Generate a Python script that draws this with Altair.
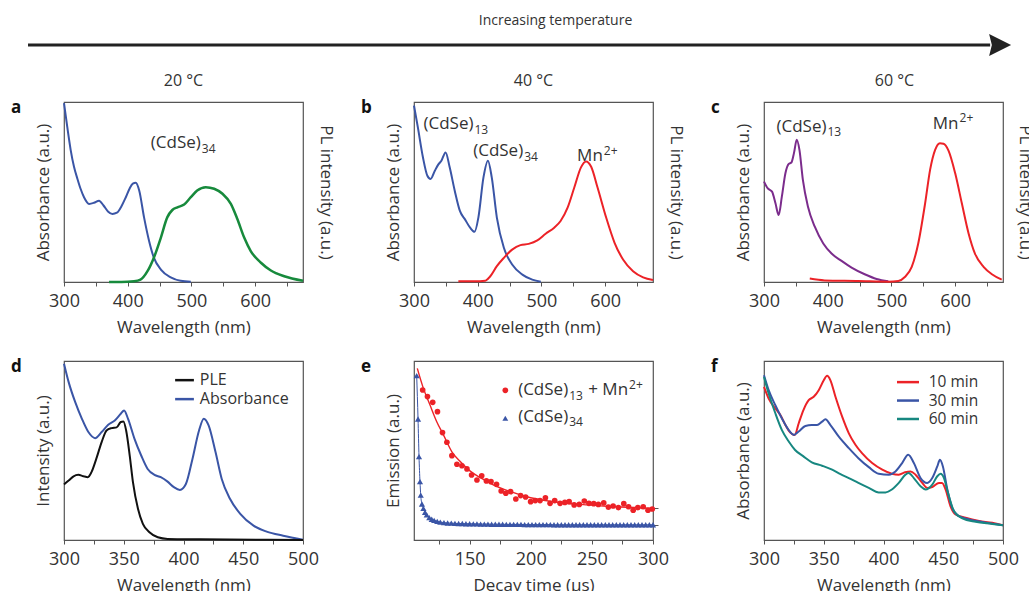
import altair as alt
import pandas as pd

FONT = "Open Sans"
TXT = "#333333"
FRAME = "#555555"
BLUE = "#3a55a6"
GREEN = "#178a3c"
RED = "#ec2227"
PURPLE = "#7b2c8c"
TEAL = "#178780"
BLACK = "#111111"

# ---------------- data (normalised 0..1) ----------------
# panel a (20 C)
a_abs_x = [300, 305, 310.5, 315.7, 321, 326, 331.4, 339.3, 347, 355, 362, 369, 376, 383, 390, 397, 403, 408, 412.6, 418, 425.6, 433.5, 441, 452, 467.5, 483, 499]
a_abs_y = [0.994, 0.864, 0.733, 0.64, 0.574, 0.518, 0.471, 0.434, 0.44, 0.452, 0.425, 0.392, 0.378, 0.385, 0.42, 0.471, 0.52, 0.546, 0.551, 0.508, 0.359, 0.228, 0.135, 0.069, 0.026, 0.007, 0.002]
a_pl_x = [370.7, 390, 410, 420, 431, 441, 452, 462, 470, 478, 488.5, 499, 509, 522.5, 535.6, 548.7, 561.8, 572, 582.7, 593, 609, 624.6, 645.5, 675]
a_pl_y = [0.0, 0.0, 0.004, 0.013, 0.06, 0.135, 0.247, 0.359, 0.4, 0.415, 0.43, 0.471, 0.508, 0.527, 0.518, 0.49, 0.434, 0.35, 0.247, 0.172, 0.107, 0.064, 0.032, 0.007]

# panel b (40 C)
b_abs_x = [300, 306, 314, 321, 326, 332.7, 338, 343, 349.6, 356, 364, 372, 380, 388, 395, 401, 409, 416, 422, 430, 441, 454, 470, 485.6, 499]
b_abs_y = [0.98, 0.86, 0.693, 0.59, 0.572, 0.618, 0.652, 0.674, 0.72, 0.637, 0.506, 0.395, 0.348, 0.302, 0.279, 0.358, 0.581, 0.674, 0.581, 0.358, 0.19, 0.097, 0.041, 0.013, 0.002]
b_pl_x = [369.6, 395, 411.8, 419.7, 430, 441, 454, 467, 480, 493.5, 506.6, 520, 530, 541, 551.5, 562, 570, 578, 588, 601.5, 614.7, 628, 643.7, 659.5, 675]
b_pl_y = [0.004, 0.004, 0.007, 0.032, 0.088, 0.134, 0.18, 0.205, 0.212, 0.231, 0.268, 0.302, 0.339, 0.413, 0.525, 0.637, 0.67, 0.64, 0.525, 0.358, 0.218, 0.125, 0.06, 0.026, 0.011]

# panel c (60 C)
c_abs_x = [300, 306, 312.6, 318, 323, 328, 333.6, 338.8, 343, 347, 351.4, 355.6, 361, 369, 379.7, 393, 406, 421.7, 437.4, 458, 476.7, 495]
c_abs_y = [0.558, 0.52, 0.502, 0.437, 0.372, 0.474, 0.604, 0.656, 0.664, 0.716, 0.79, 0.734, 0.567, 0.418, 0.307, 0.214, 0.158, 0.117, 0.08, 0.043, 0.017, 0.004]
c_pl_x = [371.8, 395, 448, 495, 510.8, 521, 531.8, 542, 552.8, 560.6, 568.5, 576, 581.6, 589.5, 600, 610.4, 621, 631, 644.5, 657.6, 673]
c_pl_y = [0.019, 0.009, 0.006, 0.002, 0.006, 0.028, 0.084, 0.214, 0.437, 0.623, 0.734, 0.771, 0.768, 0.73, 0.604, 0.437, 0.27, 0.158, 0.084, 0.043, 0.013]

# panel d (PLE vs absorbance)
d_abs_x = [300, 303.9, 309.4, 315, 320.4, 326, 331.5, 337, 342.5, 347.5, 350.3, 353.6, 359, 364.6, 370, 375.7, 381, 386.7, 392, 397, 402, 407.5, 413, 417, 421, 426.8, 432, 439, 447.5, 458.6, 469.6, 483.4, 500]
d_abs_y = [0.985, 0.882, 0.77, 0.677, 0.603, 0.569, 0.603, 0.644, 0.668, 0.705, 0.724, 0.677, 0.565, 0.472, 0.397, 0.364, 0.351, 0.326, 0.295, 0.28, 0.313, 0.453, 0.612, 0.677, 0.64, 0.491, 0.341, 0.229, 0.146, 0.08, 0.047, 0.024, 0.002]
d_ple_x = [300, 303.9, 308, 312, 316.3, 320, 323, 327, 331.5, 335.6, 339.8, 344, 347.5, 349.7, 352, 355, 357.7, 361.9, 366, 371.5, 378.5, 386.7, 414, 500]
d_ple_y = [0.31, 0.332, 0.356, 0.364, 0.356, 0.351, 0.379, 0.453, 0.547, 0.612, 0.625, 0.629, 0.659, 0.662, 0.612, 0.472, 0.323, 0.174, 0.09, 0.043, 0.015, 0.006, 0.004, 0.0]
d_series = ["PLE", "Absorbance"]

# panel e (decay)
e_mn_t = [111.6, 115.5, 119.8, 123.7, 127.8, 131.4, 135.5, 139.6, 143.7, 147.8, 151.6, 156, 159.9, 163.7, 167.5, 172, 175.8, 179.6, 183.5, 187.8, 191.7, 195.8, 199.9, 203.7, 207.6, 212, 215.8, 219.6, 224, 227.9, 231.4, 235.5, 239.7, 243.8, 247.6, 251.5, 255.3, 259.7, 263.5, 267.4, 271.7, 276.1, 280, 283.8, 287.6, 292, 295.9, 299.4]
e_mn_v = [0.838, 0.801, 0.769, 0.717, 0.6, 0.546, 0.471, 0.423, 0.415, 0.397, 0.363, 0.335, 0.359, 0.33, 0.326, 0.311, 0.274, 0.261, 0.27, 0.229, 0.248, 0.24, 0.214, 0.22, 0.22, 0.236, 0.205, 0.22, 0.205, 0.21, 0.214, 0.196, 0.199, 0.218, 0.205, 0.203, 0.199, 0.207, 0.184, 0.19, 0.181, 0.203, 0.186, 0.166, 0.181, 0.186, 0.166, 0.173]
e_fit_t = [107.2, 112.2, 117.6, 123.1, 128.6, 135.5, 142.3, 150.5, 158.8, 169.7, 183.5, 199.9, 219.1, 246.5, 273.9, 300]
e_fit_v = [0.959, 0.847, 0.754, 0.661, 0.587, 0.493, 0.438, 0.385, 0.348, 0.307, 0.27, 0.236, 0.214, 0.196, 0.184, 0.177]
e_cd_t = [106.7, 107.8, 108.6, 109.4, 110.0, 111.0, 112.2, 113.5, 114.9, 117, 119, 121, 123.5, 126, 129, 132, 135, 138, 141, 144, 147, 150, 153, 156, 159, 162, 165, 168, 171, 174, 177, 180, 183, 186, 189, 192, 195, 198, 201, 204, 207, 210, 213, 216, 219, 222, 225, 228, 231, 234, 237, 240, 243, 246, 249, 252, 255, 258, 261, 264, 267, 270, 273, 276, 279, 282, 285, 288, 291, 294, 297, 300]
e_cd_v = [0.918, 0.676, 0.466, 0.326, 0.251, 0.201, 0.177, 0.155, 0.14, 0.125, 0.116, 0.11, 0.104, 0.1, 0.097, 0.095, 0.094, 0.093, 0.092, 0.092, 0.091, 0.091, 0.09, 0.09, 0.089, 0.089, 0.089, 0.088, 0.088, 0.088, 0.088, 0.087, 0.087, 0.087, 0.087, 0.087, 0.086, 0.086, 0.086, 0.086, 0.086, 0.086, 0.086, 0.086, 0.085, 0.085, 0.085, 0.085, 0.085, 0.085, 0.085, 0.085, 0.085, 0.085, 0.085, 0.085, 0.085, 0.085, 0.085, 0.085, 0.085, 0.085, 0.085, 0.085, 0.085, 0.085, 0.085, 0.085, 0.085, 0.085, 0.085, 0.085]

# panel f (time series)
f_x = [300, 303.9, 309.5, 313.7, 317.9, 322, 325.7, 329, 333, 337.4, 341.6, 345.8, 350, 352.8, 355.6, 359.8, 365.4, 371, 376.5, 382, 390.5, 399, 407, 412.8, 418, 422.6, 426.8, 432.4, 436.6, 440.8, 446.4, 449, 452, 456, 460.3, 468.7, 480, 491, 500]
f_10_y = [0.855, 0.79, 0.735, 0.698, 0.643, 0.6, 0.587, 0.651, 0.726, 0.781, 0.8, 0.837, 0.892, 0.917, 0.892, 0.8, 0.689, 0.596, 0.532, 0.485, 0.43, 0.393, 0.37, 0.365, 0.378, 0.383, 0.365, 0.319, 0.291, 0.296, 0.319, 0.319, 0.282, 0.189, 0.143, 0.124, 0.106, 0.096, 0.082]
f30_x = [300, 303.9, 309.5, 315, 320.7, 324.9, 329, 334.6, 340, 344.4, 348.6, 351.4, 355.6, 362.6, 371, 379, 387.7, 396, 404.5, 410, 415.6, 420.7, 425.4, 431, 436.6, 440.8, 445, 447.2, 449.7, 453.4, 457.5, 463, 471.5, 482.7, 500]
f_30_y = [0.92, 0.837, 0.753, 0.679, 0.614, 0.587, 0.606, 0.637, 0.642, 0.642, 0.661, 0.674, 0.642, 0.577, 0.513, 0.457, 0.407, 0.37, 0.365, 0.383, 0.43, 0.476, 0.43, 0.346, 0.319, 0.346, 0.411, 0.448, 0.411, 0.282, 0.18, 0.133, 0.115, 0.1, 0.082]
f60_x = [300, 303.9, 309.5, 315, 320.7, 326, 333, 340, 348.6, 357, 364, 371, 379, 387.7, 396, 401.7, 407, 412.8, 418.4, 421, 425.4, 431, 435.2, 440.8, 445, 447.8, 450.6, 454, 459, 466, 477, 491, 500]
f_60_y = [0.911, 0.818, 0.708, 0.614, 0.55, 0.503, 0.467, 0.434, 0.415, 0.393, 0.368, 0.346, 0.319, 0.291, 0.266, 0.266, 0.282, 0.319, 0.365, 0.374, 0.346, 0.3, 0.282, 0.309, 0.356, 0.37, 0.346, 0.262, 0.161, 0.121, 0.102, 0.09, 0.082]
f_series = ["10 min", "30 min", "60 min"]

# ---------------- helpers ----------------
W = 239
H1, H2 = 180, 179


def frame(x, y):
    return pd.DataFrame({"x": x, "y": y})


def xenc(domain, values, step, title):
    return alt.X(
        "x:Q",
        scale=alt.Scale(domain=domain, nice=False, zero=False),
        axis=alt.Axis(
            values=values,
            labelExpr=f"datum.value % {step} === 0 ? datum.label : ''",
            title=title,
        ),
    )


def yenc(axis):
    return alt.Y("y:Q", scale=alt.Scale(domain=[0, 1], nice=False, zero=False), axis=axis)


def left_axis(title):
    return alt.Axis(orient="left", title=title, labels=False, ticks=False, domain=False, grid=False, titlePadding=12)


def right_axis(title, pad=13):
    return alt.Axis(orient="right", title=title, labels=False, ticks=False, domain=False, grid=False, titlePadding=pad)


def line(df, color, X, axis=None, width=2.0):
    return alt.Chart(df).mark_line(color=color, strokeWidth=width, interpolate="monotone").encode(x=X, y=yenc(axis))


def notes(xs, ys, texts, X, size=17):
    df = pd.DataFrame({"x": xs, "y": ys, "t": texts})
    return alt.Chart(df).mark_text(align="left", baseline="middle", font=FONT, fontSize=size, color=TXT).encode(
        x=X, y=yenc(None), text="t:N"
    )


def scripted(xs, ys, bases, scripts, sub, X, size=17):
    """Base text ends at x (right aligned); the sub/superscript starts there."""
    base = pd.DataFrame({"x": xs, "y": ys, "t": bases})
    scr = pd.DataFrame({"x": xs, "y": ys, "t": scripts})
    return [
        alt.Chart(base).mark_text(align="right", baseline="alphabetic", font=FONT, fontSize=size, color=TXT).encode(
            x=X, y=yenc(None), text="t:N"),
        alt.Chart(scr).mark_text(align="left", baseline="alphabetic", font=FONT, fontSize=round(size * 0.7),
                                 color=TXT, dx=1, dy=(4.5 if sub else -6.5)).encode(
            x=X, y=yenc(None), text="t:N"),
    ]


def key_line(x0, x1, y, color, X):
    df = pd.DataFrame({"x": [x0], "x2": [x1], "y": [y]})
    return alt.Chart(df).mark_rule(strokeWidth=2.5, color=color).encode(x=X, x2="x2:Q", y=yenc(None))


def letter(ch):
    return alt.Chart(pd.DataFrame({"t": [ch]})).mark_text(
        align="left", baseline="alphabetic", font=FONT, fontSize=17, fontWeight="bold", color="#111111"
    ).encode(x=alt.value(-53), y=alt.value(11), text="t:N")


WL_DOM = [300, 675]
WL_VALS = [300, 350, 400, 450, 500, 550, 600, 650]
SH_VALS = [300, 325, 350, 375, 400, 425, 450, 475, 500]

# ---------------- panel a ----------------
Xa = xenc(WL_DOM, WL_VALS, 100, "Wavelength (nm)")
pa = alt.layer(
    line(frame(a_abs_x, a_abs_y), BLUE, Xa, left_axis("Absorbance (a.u.)")),
    line(frame(a_pl_x, a_pl_y), GREEN, Xa, right_axis("PL intensity (a.u.)"), 2.5),
    *scripted([514.7], [0.743], ["(CdSe)"], ["34"], True, Xa),
    letter("a"),
).resolve_scale(y="independent").properties(width=W, height=H1, title=alt.TitleParams("20 °C"))

# ---------------- panel b ----------------
Xb = xenc(WL_DOM, WL_VALS, 100, "Wavelength (nm)")
pb = alt.layer(
    line(frame(b_abs_x, b_abs_y), BLUE, Xb, left_axis("Absorbance (a.u.)")),
    line(frame(b_pl_x, b_pl_y), RED, Xb, right_axis("PL intensity (a.u.)")),
    *scripted([393.3, 471.3], [0.848, 0.7], ["(CdSe)", "(CdSe)"], ["13", "34"], True, Xb),
    *scripted([596.3], [0.672], ["Mn"], ["2+"], False, Xb),
    letter("b"),
).resolve_scale(y="independent").properties(width=W, height=H1, title=alt.TitleParams("40 °C"))

# ---------------- panel c ----------------
Xc = xenc(WL_DOM, WL_VALS, 100, "Wavelength (nm)")
pc = alt.layer(
    line(frame(c_abs_x, c_abs_y), PURPLE, Xc, left_axis("Absorbance (a.u.)")),
    line(frame(c_pl_x, c_pl_y), RED, Xc, right_axis("PL intensity (a.u.)", 12)),
    *scripted([398], [0.836], ["(CdSe)"], ["13"], True, Xc),
    *scripted([605.2], [0.851], ["Mn"], ["2+"], False, Xc),
    letter("c"),
).resolve_scale(y="independent").properties(width=W, height=H1, title=alt.TitleParams("60 °C", dx=11))

# ---------------- panel d ----------------
Xd = xenc([300, 500], SH_VALS, 50, "Wavelength (nm)")
d_key_y = [0.893, 0.787]
pd_ = alt.layer(
    line(frame(d_abs_x, d_abs_y), BLUE, Xd, left_axis("Intensity (a.u.)")),
    line(frame(d_ple_x, d_ple_y), BLACK, Xd),
    key_line(393, 408.7, d_key_y[0], BLACK, Xd),
    key_line(393, 408.7, d_key_y[1], BLUE, Xd),
    notes([413.7, 413.7], d_key_y, d_series, Xd, 16),
    letter("d"),
).resolve_scale(y="independent").properties(width=W, height=H2)

# ---------------- panel e ----------------
Xe = xenc([104.5, 300], [125, 150, 175, 200, 225, 250, 275, 300], 50, "Decay time (μs)")
e_key_y = [0.836, 0.68]
pe = alt.layer(
    alt.Chart(frame(e_mn_t, e_mn_v)).mark_circle(size=32, color=RED, opacity=1).encode(
        x=Xe, y=yenc(left_axis("Emission (a.u.)"))
    ),
    line(frame(e_fit_t, e_fit_v), RED, Xe, None, 1.4),
    line(frame(e_cd_t, e_cd_v), BLUE, Xe, None, 1.0),
    alt.Chart(frame(e_cd_t, e_cd_v)).mark_point(
        shape="triangle-up", filled=True, size=38, color=BLUE, opacity=1
    ).encode(
        x=Xe,
        y=yenc(alt.Axis(orient="right", title=None, values=[0.177, 0.085], labels=False, ticks=True,
                        tickSize=5, domain=False, grid=False)),
    ),
    alt.Chart(frame([179.2], [e_key_y[0]])).mark_circle(size=32, color=RED, opacity=1).encode(x=Xe, y=yenc(None)),
    alt.Chart(frame([179.2], [e_key_y[1]])).mark_point(shape="triangle-up", filled=True, size=34, color=BLUE,
                                                        opacity=1).encode(x=Xe, y=yenc(None)),
    *scripted([230.6, 230.6], [0.81, 0.661], ["(CdSe)", "(CdSe)"], ["13", "34"], True, Xe),
    *scripted([279.6], [0.81], ["+ Mn"], ["2+"], False, Xe),
    letter("e"),
).resolve_scale(y="independent").properties(width=W, height=H2)

# ---------------- panel f ----------------
Xf = xenc([300, 500], SH_VALS, 50, "Wavelength (nm)")
f_key_y = [0.882, 0.779, 0.676]
pf = alt.layer(
    line(frame(f_x, f_10_y), RED, Xf, left_axis("Absorbance (a.u.)")),
    line(frame(f30_x, f_30_y), BLUE, Xf),
    line(frame(f60_x, f_60_y), TEAL, Xf),
    key_line(411.3, 429.7, f_key_y[0], RED, Xf),
    key_line(411.3, 429.7, f_key_y[1], BLUE, Xf),
    key_line(411.3, 429.7, f_key_y[2], TEAL, Xf),
    notes([437.8] * 3, f_key_y, f_series, Xf, 15.5),
    letter("f"),
).resolve_scale(y="independent").properties(width=W, height=H2)

# ---------------- header with arrow ----------------
HX = alt.X("x:Q", scale=alt.Scale(domain=[0, 1]), axis=None)
HY = alt.Y("y:Q", scale=alt.Scale(domain=[0, 1]), axis=None)
hdr = alt.layer(
    alt.Chart(pd.DataFrame({"x": [-0.038], "x2": [0.978], "y": [0.15]})).mark_rule(
        strokeWidth=3, color="#222222"
    ).encode(x=HX, x2="x2:Q", y=HY),
    alt.Chart(pd.DataFrame({"x": [0.9885], "y": [0.15]})).mark_point(
        shape="M-1,-1L1,0L-1,1L-0.75,0Z", size=484, filled=True, color="#222222", opacity=1
    ).encode(x=HX, y=HY),
    alt.Chart(pd.DataFrame({"x": [0.519], "y": [0.7625], "t": ["Increasing temperature"]})).mark_text(
        font=FONT, fontSize=14, color=TXT, align="center", baseline="middle"
    ).encode(x=HX, y=HY, text="t:N"),
).properties(width=947, height=40, view=alt.ViewBackground(stroke="transparent"))

row1 = alt.hconcat(pa, pb, pc, spacing=111, bounds="flush")
row2 = alt.hconcat(pd_, pe, pf, spacing=111, bounds="flush")
body = alt.vconcat(row1, row2, spacing=21)

chart = (
    alt.vconcat(hdr, body, spacing=15)
    .properties(padding={"left": 10, "top": 10, "right": -5, "bottom": -3})
    .configure_view(stroke=FRAME, strokeWidth=1.2)
    .configure_axis(
        labelFont=FONT, labelFontSize=18, labelColor=TXT, labelFlush=False, labelOverlap=False, labelPadding=6,
        titleFont=FONT, titleFontSize=17, titleFontWeight="normal", titleColor=TXT, titlePadding=9,
        tickColor=FRAME, tickSize=4, domain=False, grid=False,
    )
    .configure_title(font=FONT, fontSize=16, fontWeight="normal", color=TXT, offset=10)
)

chart.save("out.html", embed_options={"renderer": "svg", "actions": False})
